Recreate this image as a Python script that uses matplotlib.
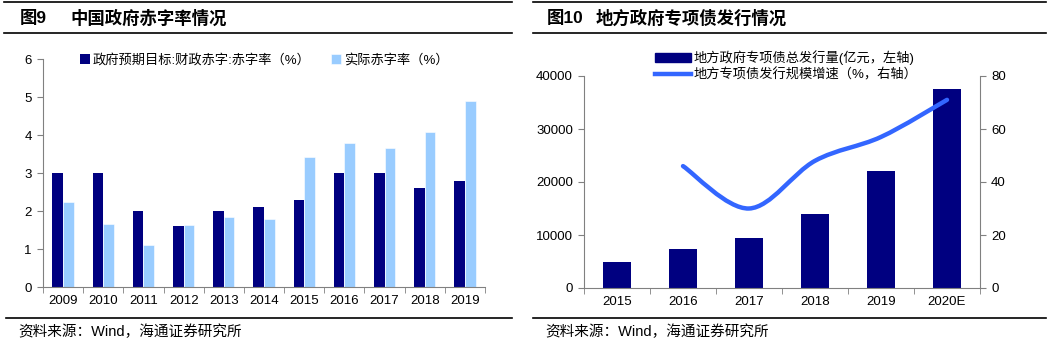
import numpy as np
import matplotlib
matplotlib.use("Agg")
import matplotlib.pyplot as plt
from matplotlib.lines import Line2D
from matplotlib.path import Path
from matplotlib.patches import PathPatch, Patch

plt.rcParams['font.family'] = ['Liberation Sans', 'Noto Sans CJK SC', 'DejaVu Sans']

# chart 9 data
years9 = ['2009', '2010', '2011', '2012', '2013', '2014', '2015', '2016', '2017', '2018', '2019']
target = [3.0, 3.0, 2.0, 1.6, 2.0, 2.1, 2.3, 3.0, 3.0, 2.6, 2.8]
actual = [2.23, 1.65, 1.1, 1.62, 1.85, 1.78, 3.43, 3.78, 3.67, 4.09, 4.9]

# chart 10 data
years10 = ['2015', '2016', '2017', '2018', '2019', '2020E']
issuance = [5000, 7300, 9400, 14000, 22000, 37500]
growth = [np.nan, 46, 30, 48, 57, 71]

navy = '#000080'
light = '#99CCFF'
lineblue = '#3366FF'
grey = '#808080'

W, H = 1055, 347
fig = plt.figure(figsize=(W / 100, H / 100), dpi=100)


def px_axes(x0, y0, x1, y1):
    return fig.add_axes([x0 / W, 1 - y1 / H, (x1 - x0) / W, (y1 - y0) / H])


def hline(x0, x1, y, lw=1.2):
    fig.add_artist(Line2D([x0 / W, x1 / W], [1 - y / H, 1 - y / H], color='black', lw=lw))


def style_axis(ax, n):
    for s in ['top', 'right']:
        ax.spines[s].set_visible(False)
    for s in ['left', 'bottom']:
        ax.spines[s].set_color(grey)
    ax.set_xlim(-0.5, n - 0.5)
    ax.set_xticks(range(n))
    ax.set_xticks(np.arange(-0.5, n, 1), minor=True)
    ax.tick_params(axis='x', which='major', length=0, labelsize=9.5, pad=6)
    ax.tick_params(axis='x', which='minor', length=4, color=grey)
    ax.tick_params(axis='y', length=4, color=grey, labelsize=9.5, pad=4)


# ---- header / footer lines and texts
hline(4, 512, 2)
hline(4, 512, 33)
hline(6, 512, 318)
hline(533, 1046, 2)
hline(533, 1046, 33)
hline(533, 1046, 318)

fig.text(20 / W, 1 - 18 / H, '图9', fontsize=12.5, fontweight='bold', va='center')
fig.text(70 / W, 1 - 18 / H, '中国政府赤字率情况', fontsize=12.5, fontweight='bold', va='center')
fig.text(547 / W, 1 - 18 / H, '图10', fontsize=12.5, fontweight='bold', va='center')
fig.text(596 / W, 1 - 18 / H, '地方政府专项债发行情况', fontsize=12.5, fontweight='bold', va='center')
fig.text(18 / W, 1 - 332 / H, '资料来源：Wind，海通证券研究所', fontsize=10.5, va='center')
fig.text(545 / W, 1 - 332 / H, '资料来源：Wind，海通证券研究所', fontsize=10.5, va='center')

# ---- chart 9
ax1 = px_axes(43, 59, 485, 287)
x = np.arange(len(years9))
w = 0.265
ax1.bar(x - w / 2, target, w, color=navy, label='政府预期目标:财政赤字:赤字率（%）')
ax1.bar(x + w / 2, actual, w, color=light, edgecolor='white', linewidth=0.4, label='实际赤字率（%）')
style_axis(ax1, len(years9))
ax1.set_xticklabels(years9)
ax1.set_ylim(0, 6)
ax1.set_yticks(range(0, 7))
ax1.legend(loc='upper center', bbox_to_anchor=(0.5, 1.045), ncol=2, frameon=False,
           fontsize=9.5, handlelength=0.8, handleheight=0.8, handletextpad=0.2,
           columnspacing=1.5, borderaxespad=0)

# ---- chart 10
ax2 = px_axes(584, 76, 980, 288)
x2 = np.arange(len(years10))
ax2.bar(x2, issuance, 0.42, color=navy)
style_axis(ax2, len(years10))
ax2.set_xticklabels(years10)
ax2.set_ylim(0, 40000)
ax2.set_yticks(range(0, 40001, 10000))

ax3 = ax2.twinx()
ax3.set_ylim(0, 80)
ax3.set_yticks(range(0, 81, 20))
for s in ['top', 'left', 'bottom']:
    ax3.spines[s].set_visible(False)
ax3.spines['right'].set_color(grey)
ax3.tick_params(axis='y', length=4, color=grey, labelsize=9.5, pad=4)

# smoothed line (Catmull-Rom as cubic Bezier segments)
gx = [xi for xi, g in zip(x2, growth) if not np.isnan(g)]
gy = [g for g in growth if not np.isnan(g)]
pts = np.column_stack([gx, gy]).astype(float)
verts = [tuple(pts[0])]
codes = [Path.MOVETO]
n = len(pts)
for i in range(n - 1):
    p0 = pts[i - 1] if i > 0 else pts[i]
    p1 = pts[i]
    p2 = pts[i + 1]
    p3 = pts[i + 2] if i + 2 < n else pts[i + 1]
    c1 = p1 + (p2 - p0) / 6
    c2 = p2 - (p3 - p1) / 6
    verts += [tuple(c1), tuple(c2), tuple(p2)]
    codes += [Path.CURVE4] * 3
ax3.add_patch(PathPatch(Path(verts, codes), fill=False, edgecolor=lineblue, lw=3.2,
                        capstyle='round'))

handles = [Patch(color=navy), Line2D([0], [0], color=lineblue, lw=3.2)]
labels = ['地方政府专项债总发行量(亿元，左轴)', '地方专项债发行规模增速（%，右轴）']
fig.legend(handles, labels, loc='upper left', bbox_to_anchor=(655 / W, 1 - 50 / H),
           frameon=False, fontsize=9.5, handlelength=2.7, handleheight=0.7,
           handletextpad=0.2, labelspacing=0.25, borderaxespad=0, borderpad=0)

fig.savefig('out.png', dpi=100)
